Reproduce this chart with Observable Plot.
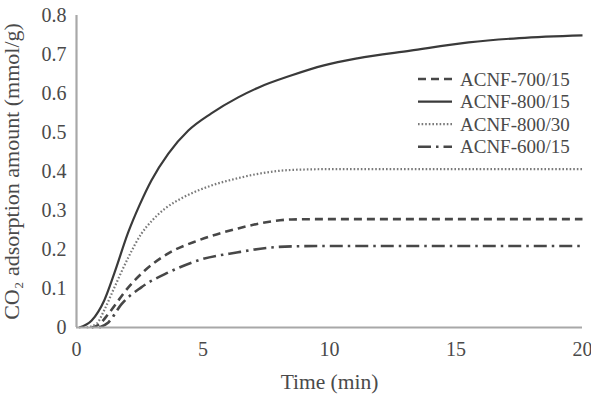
<!DOCTYPE html>
<html>
<head>
<meta charset="utf-8">
<script src="https://cdn.jsdelivr.net/npm/d3@7"></script>
<script src="https://cdn.jsdelivr.net/npm/@observablehq/plot@0.6"></script>
<style>
  html, body { margin: 0; padding: 0; background: #fff; }
  #wrap { position: relative; width: 591px; height: 397px; }
  #legend { position: absolute; left: 0; top: 0; }
</style>
</head>
<body>
<div id="wrap"></div>
<script>
// ---- data ----
const seriesNames = ["ACNF-700/15", "ACNF-800/15", "ACNF-800/30", "ACNF-600/15"];

const time700_15 = [0.6, 0.9, 1.26, 2.05, 2.7, 3.63, 4.8, 6.39, 7.5, 8.5, 10, 15, 20];
const val700_15  = [0, 0.008, 0.035, 0.103, 0.146, 0.19, 0.223, 0.254, 0.27, 0.277, 0.278, 0.278, 0.278];

const time800_15 = [0.1, 0.6, 1.1, 1.5, 2.05, 2.5, 2.96, 3.63, 4.42, 5.33, 6.39, 7.18, 8.48, 9.78, 11.1, 13.2, 15.5, 17.5, 20];
const val800_15  = [0, 0.018, 0.07, 0.14, 0.245, 0.315, 0.377, 0.446, 0.505, 0.549, 0.59, 0.615, 0.646, 0.672, 0.69, 0.71, 0.731, 0.742, 0.749];

const time800_30 = [0.4, 0.8, 1.1, 1.5, 2.05, 2.56, 3.0, 3.5, 4.26, 5.33, 6.39, 7.18, 8.5, 10, 12, 15, 20];
const val800_30  = [0, 0.01, 0.045, 0.103, 0.18, 0.24, 0.275, 0.305, 0.335, 0.364, 0.383, 0.394, 0.404, 0.406, 0.406, 0.406, 0.406];

const time600_15 = [0.9, 1.26, 1.78, 2.56, 3.63, 4.8, 6.39, 7.5, 8.5, 10, 15, 20];
const val600_15  = [0, 0.013, 0.06, 0.103, 0.141, 0.172, 0.193, 0.204, 0.208, 0.209, 0.209, 0.209];

const xTicks = [0, 5, 10, 15, 20];
const yTicks = [0, 0.1, 0.2, 0.3, 0.4, 0.5, 0.6, 0.7, 0.8];

// ---- styles ----
const styles = {
  "ACNF-700/15": {stroke: "#474747", width: 2.6, dash: "8,5"},
  "ACNF-800/15": {stroke: "#3a3a3a", width: 2.2, dash: null},
  "ACNF-800/30": {stroke: "#7a7a7a", width: 2.2, dash: "1.6,2"},
  "ACNF-600/15": {stroke: "#474747", width: 2.6, dash: "13,5,2.5,5"}
};

const seriesData = {
  "ACNF-700/15": [time700_15, val700_15],
  "ACNF-800/15": [time800_15, val800_15],
  "ACNF-800/30": [time800_30, val800_30],
  "ACNF-600/15": [time600_15, val600_15]
};

const lineMarks = seriesNames.map(name => {
  const [t, v] = seriesData[name];
  const data = t.map((ti, i) => ({t: ti, v: v[i]}));
  const s = styles[name];
  return Plot.line(data, {
    x: "t", y: "v", curve: "monotone-x",
    stroke: s.stroke, strokeWidth: s.width,
    strokeDasharray: s.dash ?? undefined,
    strokeLinecap: "butt"
  });
});

const font = "'Liberation Serif', 'Times New Roman', serif";

const chart = Plot.plot({
  width: 591,
  height: 397,
  marginLeft: 76,
  marginRight: 9,
  marginTop: 15,
  marginBottom: 70,
  style: {fontFamily: font, fontSize: "20px", color: "#4a4a4a", background: "#fff"},
  x: {domain: [0, 20]},
  y: {domain: [0, 0.8]},
  marks: [
    Plot.axisX({ticks: xTicks, tickSize: 0, tickPadding: 14, tickFormat: d => String(d),
      label: null, fontSize: 20}),
    Plot.axisX({ticks: [], tickSize: 0,
      label: "Time (min)", labelAnchor: "center", labelArrow: "none", labelOffset: 61, fontSize: 21.5}),
    Plot.axisY({ticks: yTicks, tickSize: 0, tickPadding: 10, tickFormat: d => d === 0 ? "0" : d.toFixed(1),
      label: null, fontSize: 20}),
    Plot.axisY({ticks: [], tickSize: 0,
      label: "CO\u2082 adsorption amount (mmol/g)", labelAnchor: "center", labelArrow: "none", labelOffset: 73, fontSize: 22}),
    ...lineMarks,
    Plot.ruleY([0], {stroke: "#a8a8a8", strokeWidth: 2.2}),
    Plot.ruleX([0], {stroke: "#a8a8a8", strokeWidth: 2.2})
  ]
});

const wrap = document.getElementById("wrap");
wrap.appendChild(chart);

// ---- legend overlay ----
const ns = "http://www.w3.org/2000/svg";
const leg = document.createElementNS(ns, "svg");
leg.setAttribute("id", "legend");
leg.setAttribute("width", 591);
leg.setAttribute("height", 397);
const legX0 = 418, legX1 = 452, legTextX = 460, legY0 = 79, legDy = 22.6;
seriesNames.forEach((name, i) => {
  const s = styles[name];
  const y = legY0 + i * legDy;
  const ln = document.createElementNS(ns, "line");
  ln.setAttribute("x1", legX0); ln.setAttribute("x2", legX1);
  ln.setAttribute("y1", y); ln.setAttribute("y2", y);
  ln.setAttribute("stroke", s.stroke);
  ln.setAttribute("stroke-width", s.width);
  if (s.dash) ln.setAttribute("stroke-dasharray", s.dash);
  leg.appendChild(ln);
  const tx = document.createElementNS(ns, "text");
  tx.setAttribute("x", legTextX); tx.setAttribute("y", y);
  tx.setAttribute("dy", "0.35em");
  tx.setAttribute("font-family", font);
  tx.setAttribute("font-size", "19px");
  tx.setAttribute("fill", "#4a4a4a");
  tx.textContent = name;
  leg.appendChild(tx);
});
wrap.appendChild(leg);
</script>
</body>
</html>
